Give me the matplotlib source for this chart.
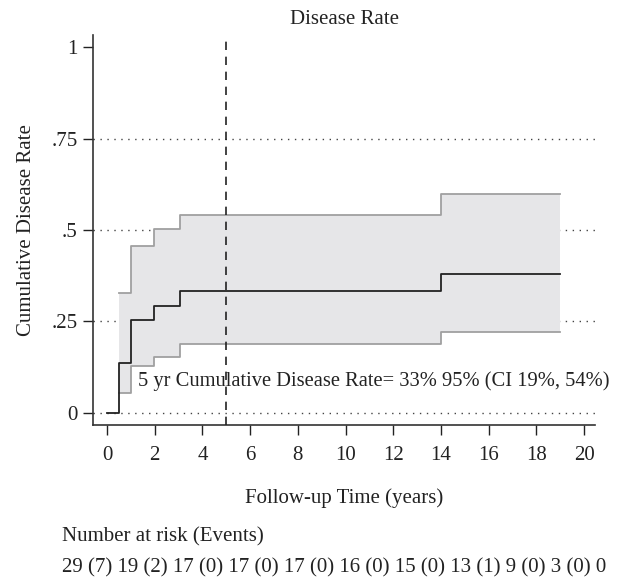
import matplotlib
matplotlib.use("Agg")
import matplotlib.pyplot as plt

plt.rcParams['font.family'] = ['Liberation Serif', 'DejaVu Serif']

# Data
step_times = [0.0, 0.5, 1.0, 1.95, 3.05, 14.0, 19.0]
cum_rate = [0.0, 0.137, 0.253, 0.291, 0.332, 0.381, 0.381]
ci_times = [0.5, 1.0, 1.95, 3.05, 14.0, 19.0]
ci_upper = [0.327, 0.456, 0.503, 0.541, 0.599, 0.599]
ci_lower = [0.054, 0.127, 0.154, 0.189, 0.222, 0.222]
x_ticks = [0, 2, 4, 6, 8, 10, 12, 14, 16, 18, 20]
y_ticks = [0, 0.25, 0.5, 0.75, 1]
y_tick_labels = ["0", ".25", ".5", ".75", "1"]
at_risk = [29, 19, 17, 17, 17, 16, 15, 13, 9, 3, 0]
events = [7, 2, 0, 0, 0, 0, 0, 1, 0, 0]
annotation = "5 yr Cumulative Disease Rate= 33% 95% (CI 19%, 54%)"

FS = 15
fig = plt.figure(figsize=(6.23, 5.81), dpi=100)
ax = fig.add_axes([93/623, 1-425/581, (595-93)/623, (425-35)/581])

ax.set_xlim(-0.59, 20.46)
ax.set_ylim(-0.033, 1.033)

for yv in [0, 0.25, 0.5, 0.75]:
    ax.axhline(yv, color='#444444', lw=1.0, linestyle=(0, (1, 4)), zorder=1)

ax.fill_between(ci_times, ci_lower, ci_upper, step='post', color='#e6e6e8', lw=0, zorder=2)
ax.step(ci_times, ci_upper, where='post', color='#a0a0a0', lw=1.3, zorder=3)
ax.step(ci_times, ci_lower, where='post', color='#a0a0a0', lw=1.3, zorder=3)
ax.step(step_times, cum_rate, where='post', color='#222222', lw=1.3, zorder=4)

ax.axvline(5, color='#222222', lw=1.2, linestyle=(0, (5, 4)), zorder=5)

ax.text(1.3, 0.087, annotation, fontsize=14.8, va='center', ha='left', color='#222222', zorder=6)

ax.set_xticks(x_ticks)
ax.set_yticks(y_ticks)
ax.set_yticklabels(y_tick_labels)
ax.tick_params(axis='both', labelsize=FS, length=7, width=1.0, colors='#222222', direction='out')
ax.tick_params(axis='x', pad=8)
ax.tick_params(axis='y', pad=4)
for s in ['top', 'right']:
    ax.spines[s].set_visible(False)
for s in ['left', 'bottom']:
    ax.spines[s].set_color('#333333')
    ax.spines[s].set_linewidth(1.2)

ax.set_title("Disease Rate", fontsize=FS, color='#222222', pad=8)
ax.set_ylabel("Cumulative Disease Rate", fontsize=FS, color='#222222', labelpad=11)
ax.set_xlabel("Follow-up Time (years)", fontsize=FS, color='#222222', labelpad=17)

fig.text(62/623, 1-537/581, "Number at risk (Events)", fontsize=FS, va='center', ha='left', color='#222222')
parts = []
for i, n in enumerate(at_risk):
    if i < len(events):
        parts.append(f"{n} ({events[i]})")
    else:
        parts.append(f"{n}")
fig.text(62/623, 1-568/581, " ".join(parts), fontsize=FS, va='center', ha='left', color='#222222')

fig.savefig("out.png", dpi=100)
